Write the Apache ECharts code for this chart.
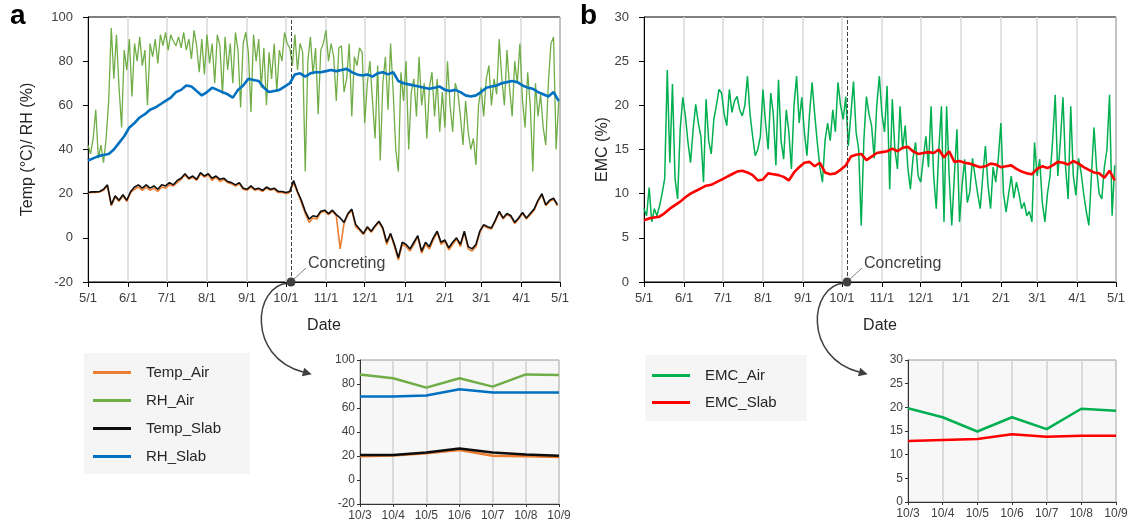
<!DOCTYPE html>
<html>
<head>
<meta charset="utf-8">
<script src="https://cdn.jsdelivr.net/npm/echarts@6/dist/echarts.min.js"></script>
<style>
html, body { margin: 0; padding: 0; background: #fff; }
#chart { width: 1133px; height: 528px; }
</style>
</head>
<body>
<div id="chart"></div>
<script>
// one category per day, 5/1 to 5/1 of the next year
var START = Date.UTC(2020, 4, 1);
var days = [];
for (var i = 0; i < 366; i++) {
    var d = new Date(START + i * 86400000);
    days.push((d.getUTCMonth() + 1) + '/' + d.getUTCDate());
}
var monthTicks = ['5/1', '6/1', '7/1', '8/1', '9/1', '10/1', '11/1', '12/1', '1/1', '2/1', '3/1', '4/1'];
var concreting = '10/5';
var insetDays = ['10/3', '10/4', '10/5', '10/6', '10/7', '10/8', '10/9'];

// main series (every 2nd / 3rd / 4th day)
var rhAir = [42, 38, 45, 58, 36, 42, 34, 45, 62, 95,
    72, 92, 68, 50, 85, 76, 90, 64, 88, 80,
    91, 78, 85, 60, 88, 82, 90, 79, 92, 87,
    93, 85, 92, 89, 87, 91, 86, 93, 85, 90,
    81, 94, 87, 75, 90, 74, 92, 79, 88, 70,
    92, 87, 65, 91, 76, 88, 70, 93, 85, 59,
    88, 93, 84, 57, 92, 80, 90, 68, 86, 60,
    84, 72, 88, 66, 85, 80, 93, 88, 86, 78,
    92, 76, 88, 84, 30, 80, 91, 74, 86, 56,
    85, 88, 94, 80, 88, 82, 62, 86, 87, 66,
    72, 88, 55, 82, 78, 86, 84, 52, 70, 80,
    62, 45, 78, 35, 70, 82, 58, 88, 66, 40,
    30, 75, 62, 80, 40, 66, 72, 55, 82, 60,
    70, 45, 68, 75, 55, 72, 48, 66, 50, 80,
    60, 48, 70, 66, 55, 42, 62, 48, 40, 45,
    33, 60, 68, 55, 72, 78, 60, 72, 65, 90,
    72, 60, 85, 68, 55, 80, 70, 88, 62, 50,
    75, 60, 30, 70, 55, 65, 50, 42, 70, 88,
    91, 40, 62];
var rhSlab = [35, 36, 37, 37.5, 38, 40, 43, 46, 50, 52,
    54.5, 56, 58, 59, 60.5, 62, 63.5, 66, 67, 69,
    68.5, 66.5, 64.5, 66, 68, 67, 66, 65, 63.5, 67,
    69, 72, 71.5, 71, 68, 66, 66.5, 67, 68.5, 70,
    74, 74.5, 73, 74.5, 75, 75, 75.5, 76, 75.5, 76,
    76.5, 75, 74, 73.5, 74, 73, 74.5, 75, 74, 75,
    71, 70, 69.5, 69, 68.5, 68, 67.5, 68, 68.5, 67,
    66.5, 67, 66, 64.5, 64, 64.5, 66, 68, 68.5, 69,
    70, 70.5, 71, 70.5, 69, 68, 67.5, 66, 65, 64,
    66, 62];
var tempSlab = [20.5, 20.8, 20.8, 21, 22, 24, 15, 19, 17, 19.5,
    17, 21, 23, 24, 22.5, 24, 22.5, 23.5, 22, 24,
    23.5, 25, 24, 26, 27, 29, 27, 28, 26.5, 29.5,
    28, 29, 27, 28, 26.5, 27, 25.5, 25, 24, 25,
    22.5, 22, 23.5, 22, 22.5, 21.5, 23, 22, 22.5, 21,
    21, 20.5, 21, 26, 21, 17, 12, 8.5, 10, 9.5,
    12, 12.5, 11, 12.5, 10.5, 9, 7, 11, 13, 6,
    4, 2, 5, 3, 5.5, 7.5, 4.5, -2, 2, -3,
    -9, -2, -3, -5, -2, 1, -6, -2, -4, 0,
    3, -2, -1, -4.5, -2, 0, -3, 3, -4, -5,
    -3, 3, 6, 5, 4.5, 8, 12, 9, 11, 10,
    7, 9, 11.5, 9, 11, 13, 17, 20, 15, 17,
    18, 15];
var tempAir = [20.3, 20.6, 20.6, 20.8, 21.5, 23.5, 14.5, 18.5, 16.5, 19,
    16.5, 20.5, 22, 23, 21.5, 23, 21.5, 22.5, 21, 23,
    22.5, 24, 23.5, 25, 26.5, 28.5, 26.5, 27.5, 26, 29,
    27.5, 28.5, 26, 27.5, 25.5, 26.5, 25, 24.5, 23.5, 24.5,
    22, 21.5, 23, 21.5, 22, 21, 22.5, 21.5, 22, 20.5,
    20.5, 20, 20.5, 25, 20.5, 16, 11, 7, 9, 8.5,
    11.5, 12, 10.5, 12, 10, -5, 6.5, 10.5, 12.5, 5,
    3.5, 1.5, 4.5, 2.5, 5, 7, 4, -3, 1.5, -4,
    -10, -3, -4, -6, -3, 0.5, -7, -3, -5, -1,
    2.5, -3, -1.5, -5.5, -3, -0.5, -4, 2.5, -5, -6,
    -4, 2.5, 5.5, 4.5, 4, 7.5, 11.5, 8.5, 10.5, 9.5,
    6.5, 8.5, 11, 8.5, 10.5, 12.5, 16.5, 19.5, 14.5, 16.5,
    17.5, 14.5];
var emcAir = [8.3, 7.5, 10.7, 6.8, 8.3, 7.5, 8.6, 10, 11.7, 24,
    13.5, 22.4, 11.7, 9.4, 17.3, 20.9, 18.8, 15.8, 13.5, 17.3,
    20.1, 18, 16.5, 11.3, 20.7, 16, 14.5, 18.4, 20, 21.8,
    21.4, 19, 17.7, 21.8, 19.2, 20.5, 21, 19.5, 18.8, 20,
    23.3, 19, 16.5, 14.3, 15, 16.5, 21.8, 18, 15, 21.4,
    19, 13.2, 22.9, 16, 13.9, 19.5, 17, 12.8, 20, 23.3,
    18, 20.9, 17, 14.3, 19, 22.6, 19, 15.8, 13, 11.3,
    16, 18, 16, 19.5, 17, 22.6, 20, 18.4, 21, 15.4,
    19, 22.7, 17, 15, 6.4, 16, 21, 19, 17.7, 14,
    20, 23.3, 19, 17, 22.2, 10.5, 20.7, 15, 12.8, 19.9,
    15, 17.7, 13, 10.5, 14, 15.8, 12, 11.3, 14, 16.5,
    13, 19.9, 12, 8.3, 15, 19.9, 6.8, 19.9, 12, 6.4,
    12, 17.3, 6.8, 11, 13.9, 9, 10.2, 14, 12, 10,
    8.3, 12, 15.4, 11, 8.3, 13, 11.3, 14, 18, 10,
    7.9, 10, 12, 9.5, 11.3, 10, 8.3, 9, 7.5, 8,
    6.8, 15.8, 12, 13.9, 9, 6.8, 10, 12, 16, 21.2,
    12, 16, 20.9, 13, 9.4, 19.9, 12, 9.8, 14, 12.4,
    10, 8, 6.4, 12, 17.5, 12.8, 10, 9.4, 13, 15,
    21.2, 7.5, 13.2];
var emcSlab = [7.0, 7.2, 7.3, 7.4, 7.8, 8.3, 8.7, 9.1, 9.6, 10,
    10.3, 10.6, 10.9, 11, 11.3, 11.6, 11.9, 12.2, 12.5, 12.6,
    12.4, 12.1, 11.5, 11.6, 12.3, 12.2, 12.1, 11.9, 11.5, 12.4,
    13, 13.5, 13.6, 13.1, 13.5, 12.4, 12.2, 12.3, 12.7, 13.2,
    14.2, 14.4, 14.5, 13.8, 14.2, 14.6, 14.7, 14.8, 15.1, 14.8,
    15.2, 15.3, 14.8, 14.5, 14.6, 14.7, 14.6, 15, 14.1, 14.8,
    13.6, 13.7, 13.5, 13.4, 13.2, 13, 13.1, 13.4, 13.3, 13,
    13.1, 13.2, 12.8, 12.5, 12.3, 12.2, 12.8, 13.1, 12.9, 13.2,
    13.6, 13.5, 13.3, 13.7, 13.4, 13.0, 12.7, 12.4, 12.3, 11.8,
    12.6, 11.5];

// inset series, 10/3 .. 10/9
var insetTempAir = [19.7, 20.5, 22.3, 25, 20.2, 19.7, 19.1];
var insetRhAir = [88, 84.8, 77, 84.8, 77.8, 88, 87.5];
var insetTempSlab = [20.8, 20.8, 23, 26.3, 23, 21.3, 20.2];
var insetRhSlab = [69.5, 69.5, 70.4, 75.6, 73, 73, 73];
var insetEmcAir = [19.8, 17.9, 14.9, 17.9, 15.4, 19.7, 19.3];
var insetEmcSlab = [12.9, 13.1, 13.3, 14.3, 13.8, 14, 14];

var COLORS = {
    Temp_Air: '#ed7d31', RH_Air: '#70ad47', Temp_Slab: '#0d0d0d', RH_Slab: '#0070c0',
    EMC_Air: '#00b050', EMC_Slab: '#ff0000'
};
var FONT = 'Liberation Sans, Arial, sans-serif';

function onDays(values, step) {
    return values.map(function (v, i) { return [i * step, v]; });
}
function isMonth(index, value) {
    return monthTicks.indexOf(value) >= 0;
}

function mainX(gridIndex) {
    return {
        type: 'category', gridIndex: gridIndex, data: days, boundaryGap: false,
        axisLine: { onZero: false, lineStyle: { color: '#000', width: 1 } },
        axisTick: { interval: isMonth, length: 5, lineStyle: { color: '#000' } },
        axisLabel: { interval: isMonth, fontSize: 13, color: '#404040', margin: 10 },
        splitLine: { show: true, interval: isMonth, lineStyle: { color: '#d9d9d9', width: 1.5 } },
        name: 'Date', nameLocation: 'middle', nameGap: 36,
        nameTextStyle: { fontSize: 16, color: '#262626' }
    };
}
function mainY(gridIndex, min, max, step, name, gap) {
    return {
        type: 'value', gridIndex: gridIndex, min: min, max: max, interval: step,
        axisLine: { show: true, lineStyle: { color: '#000' } },
        axisTick: { show: true, length: 5, lineStyle: { color: '#000' } },
        axisLabel: { fontSize: 13, color: '#404040', margin: 15 },
        splitLine: { show: false },
        name: name, nameLocation: 'middle', nameGap: gap,
        nameTextStyle: { fontSize: 16, color: '#262626' }
    };
}
function insetX(gridIndex) {
    return {
        type: 'category', gridIndex: gridIndex, data: insetDays, boundaryGap: false,
        axisLine: { onZero: false, lineStyle: { color: '#333' } },
        axisTick: { length: 3, lineStyle: { color: '#333' } },
        axisLabel: { interval: 0, fontSize: 12, color: '#404040', margin: 6 },
        splitLine: { show: true, lineStyle: { color: '#d0d0d0', width: 1.5 } }
    };
}
function insetY(gridIndex, min, max, step) {
    return {
        type: 'value', gridIndex: gridIndex, min: min, max: max, interval: step,
        axisLine: { show: true, lineStyle: { color: '#333' } },
        axisTick: { show: true, length: 3, lineStyle: { color: '#333' } },
        axisLabel: { fontSize: 12, color: '#404040', margin: 5 },
        splitLine: { show: false }
    };
}
function line(name, axis, data, width, z, extra) {
    var s = {
        name: name, type: 'line', xAxisIndex: axis, yAxisIndex: axis, data: data,
        showSymbol: false, symbol: 'none', z: z, silent: true,
        itemStyle: { color: COLORS[name] },
        lineStyle: { color: COLORS[name], width: width }
    };
    for (var k in extra) { s[k] = extra[k]; }
    return s;
}

var concIdx = days.indexOf(concreting);
var concMark = {
    markLine: {
        silent: true, symbol: ['none', 'none'], label: { show: false },
        lineStyle: { type: [4, 2], color: '#404040', width: 1 },
        data: [{ xAxis: concIdx }]
    }
};

var chart = echarts.init(document.getElementById('chart'));
var option = {
    animation: false,
    textStyle: { fontFamily: FONT },
    grid: [
        { left: 88, right: 573, top: 17, bottom: 246, show: true, borderColor: '#000', borderWidth: 1 },
        { left: 644, right: 17, top: 17, bottom: 246, show: true, borderColor: '#000', borderWidth: 1 },
        { left: 360, right: 574, top: 360, bottom: 24, show: true, borderColor: '#9a9a9a', backgroundColor: '#f7f7f7' },
        { left: 908, right: 17, top: 360, bottom: 26, show: true, borderColor: '#9a9a9a', backgroundColor: '#f7f7f7' }
    ],
    xAxis: [mainX(0), mainX(1), insetX(2), insetX(3)],
    yAxis: [
        mainY(0, -20, 100, 20, 'Temp (°C)/ RH (%)', 52),
        mainY(1, 0, 30, 5, 'EMC (%)', 32),
        insetY(2, -20, 100, 20),
        insetY(3, 0, 30, 5)
    ],
    legend: [
        {
            data: ['Temp_Air', 'RH_Air', 'Temp_Slab', 'RH_Slab'],
            orient: 'vertical', left: 84, top: 353, padding: [12, 29, 10, 9],
            itemGap: 13, itemWidth: 38, itemHeight: 3, icon: 'rect',
            backgroundColor: '#f5f5f5', selectedMode: false,
            textStyle: { fontSize: 15, color: '#262626', padding: [0, 0, 0, 10] }
        },
        {
            data: ['EMC_Air', 'EMC_Slab'],
            orient: 'vertical', left: 645, top: 355, padding: [13, 30, 11, 7],
            itemGap: 12, itemWidth: 38, itemHeight: 3, icon: 'rect',
            backgroundColor: '#f5f5f5', selectedMode: false,
            textStyle: { fontSize: 15, color: '#262626', padding: [0, 0, 0, 10] }
        }
    ],
    series: [
        line('RH_Air', 0, onDays(rhAir, 2), 1.3, 2, concMark),
        line('Temp_Air', 0, onDays(tempAir, 3), 1.6, 3),
        line('Temp_Slab', 0, onDays(tempSlab, 3), 1.6, 4),
        line('RH_Slab', 0, onDays(rhSlab, 4), 2.6, 5),
        line('EMC_Air', 1, onDays(emcAir, 2), 1.5, 2, concMark),
        line('EMC_Slab', 1, onDays(emcSlab, 4), 2.6, 5),
        line('RH_Air', 2, insetRhAir, 2.5, 2),
        line('RH_Slab', 2, insetRhSlab, 2.5, 3),
        line('Temp_Air', 2, insetTempAir, 2.5, 3),
        line('Temp_Slab', 2, insetTempSlab, 2.5, 4),
        line('EMC_Air', 3, insetEmcAir, 2.5, 2),
        line('EMC_Slab', 3, insetEmcSlab, 2.5, 3)
    ]
};
chart.setOption(option);

// annotations placed from the axes: dot, label, leader and curved arrow to the inset
function concretingNote(axis) {
    var yMin = option.yAxis[axis].min;
    var p = chart.convertToPixel({ xAxisIndex: axis, yAxisIndex: axis }, [concIdx, yMin]);
    var x = p[0], y = p[1];
    var e = [x + 12, y + 90], c2 = [x - 44, y + 75];
    var dx = e[0] - c2[0], dy = e[1] - c2[1], len = Math.sqrt(dx * dx + dy * dy);
    dx /= len; dy /= len;
    var tip = [e[0] + dx * 9, e[1] + dy * 9];
    var b1 = [e[0] - dy * 4.5, e[1] + dx * 4.5], b2 = [e[0] + dy * 4.5, e[1] - dx * 4.5];
    return [
        { type: 'line', shape: { x1: x + 3, y1: y - 3, x2: x + 15, y2: y - 14 },
          style: { stroke: '#808080', lineWidth: 1 }, z: 10 },
        { type: 'text', x: x + 17, y: y - 18,
          style: { text: 'Concreting', fontSize: 16, fill: '#404040', font: '16px ' + FONT, textVerticalAlign: 'middle' }, z: 10 },
        { type: 'bezierCurve',
          shape: { x1: x - 3, y1: y + 1, cpx1: x - 38, cpy1: y + 4, cpx2: c2[0], cpy2: c2[1], x2: e[0], y2: e[1] },
          style: { stroke: '#404040', lineWidth: 1.5, fill: null }, z: 10 },
        { type: 'polygon', shape: { points: [tip, b1, b2] }, style: { fill: '#404040' }, z: 10 },
        { type: 'circle', shape: { cx: x, cy: y, r: 4.5 }, style: { fill: '#404040' }, z: 11 }
    ];
}

chart.setOption({
    graphic: [
        { type: 'text', left: 10, top: 2, style: { text: 'a', font: 'bold 28px ' + FONT, fill: '#000' } },
        { type: 'text', left: 580, top: 2, style: { text: 'b', font: 'bold 28px ' + FONT, fill: '#000' } }
    ].concat(concretingNote(0), concretingNote(1))
});

window.addEventListener('resize', function () {
    chart.resize();
});
</script>
</body>
</html>
